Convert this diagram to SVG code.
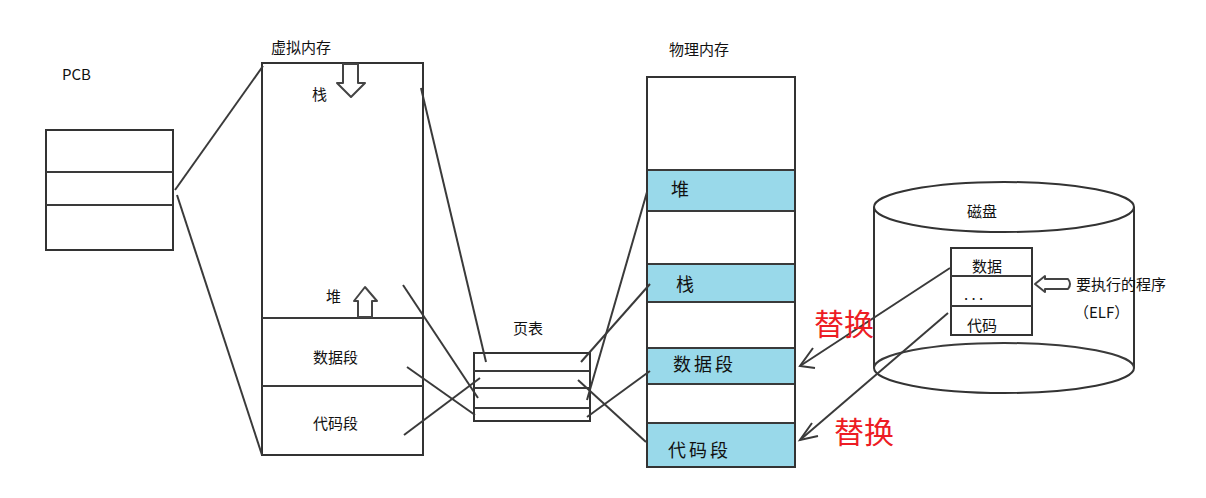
<svg xmlns="http://www.w3.org/2000/svg" width="1206" height="498" viewBox="0 0 1206 498">
<style>
.t{font-family:"Noto Sans CJK SC","Liberation Sans",sans-serif;fill:#111}
.s{font-size:15px}
.m{font-size:18px;letter-spacing:3px}
.box{fill:#fff;stroke:#333;stroke-width:2}
.ln{stroke:#3a3a3a;stroke-width:2;fill:none}
.band{fill:#99D9EA}
.red{font-family:"Noto Sans CJK SC","Liberation Sans",sans-serif;fill:#ED1C24;font-size:30px}
.arw{fill:#fff;stroke:#444;stroke-width:2;stroke-linejoin:round}
</style>
<rect width="1206" height="498" fill="#fff"/>

<g id="pcb">
<text class="t s" x="62" y="80" font-size="13">PCB</text>
<rect class="box" x="46" y="130" width="127" height="120"/>
<line class="ln" x1="46" y1="172" x2="173" y2="172"/>
<line class="ln" x1="46" y1="205" x2="173" y2="205"/>
</g>

<g id="virtual-memory">
<text class="t s" x="271" y="53">虚拟内存</text>
<rect class="box" x="262" y="63" width="161" height="392"/>
<line class="ln" x1="262" y1="318" x2="423" y2="318"/>
<line class="ln" x1="262" y1="386" x2="423" y2="386"/>
<path class="arw" d="M343 64 H358 V83 H365 L351 97 L337 83 H343 Z"/>
<text class="t s" x="312" y="100">栈</text>
<path class="arw" d="M358 317 V301 H354 L365 287 L377 301 H372 V317 Z"/>
<text class="t s" x="326" y="302">堆</text>
<text class="t s" x="313" y="363">数据段</text>
<text class="t s" x="313" y="429">代码段</text>
</g>

<g id="page-table">
<text class="t s" x="513" y="334">页表</text>
<rect class="box" x="474" y="353" width="116" height="68"/>
<line class="ln" x1="474" y1="371" x2="590" y2="371"/>
<line class="ln" x1="474" y1="388" x2="590" y2="388"/>
<line class="ln" x1="474" y1="408" x2="590" y2="408"/>
</g>

<g id="physical-memory">
<text class="t s" x="669" y="55">物理内存</text>
<rect class="box" x="647" y="77" width="148" height="390"/>
<rect class="band" x="648" y="171" width="146" height="40"/>
<rect class="band" x="648" y="265" width="146" height="37"/>
<rect class="band" x="648" y="349" width="146" height="34"/>
<rect class="band" x="648" y="424" width="146" height="42"/>
<line class="ln" x1="647" y1="170" x2="795" y2="170"/>
<line class="ln" x1="647" y1="211" x2="795" y2="211"/>
<line class="ln" x1="647" y1="264" x2="795" y2="264"/>
<line class="ln" x1="647" y1="302" x2="795" y2="302"/>
<line class="ln" x1="647" y1="348" x2="795" y2="348"/>
<line class="ln" x1="647" y1="384" x2="795" y2="384"/>
<line class="ln" x1="647" y1="423" x2="795" y2="423"/>
<rect x="647" y="77" width="148" height="390" fill="none" stroke="#333" stroke-width="2"/>
<text class="t m" x="671" y="196">堆</text>
<text class="t m" x="676" y="291">栈</text>
<text class="t m" x="673" y="371">数据段</text>
<text class="t m" x="668" y="457">代码段</text>
</g>

<g id="disk">
<path class="box" d="M874 207 V368 A130 25 0 0 0 1134 368 V207"/>
<ellipse class="box" cx="1004" cy="207" rx="130" ry="25"/>
<path class="ln" d="M874 368 A130 25 0 0 1 1134 368"/>
<text class="t s" x="967" y="217">磁盘</text>
<rect class="box" x="951" y="248" width="81" height="87"/>
<line class="ln" x1="951" y1="276" x2="1032" y2="276"/>
<line class="ln" x1="951" y1="306" x2="1032" y2="306"/>
<text class="t s" x="972" y="272">数据</text>
<text class="t s" x="964" y="300">. . .</text>
<text class="t s" x="967" y="331">代码</text>
</g>

<g id="elf-label">
<path class="arw" d="M1035 284 L1045 276 V279 H1068 Q1072 284 1068 289 H1045 V292 Z"/>
<text class="t s" x="1076" y="290">要执行的程序</text>
<text class="t s" x="1074" y="318">（ELF）</text>
</g>

<g id="connectors">
<line class="ln" x1="175" y1="190" x2="263" y2="66"/>
<line class="ln" x1="177" y1="195" x2="262" y2="455"/>
<line class="ln" x1="421" y1="88" x2="486" y2="362"/>
<line class="ln" x1="403" y1="285" x2="478" y2="398"/>
<line class="ln" x1="407" y1="367" x2="475" y2="415"/>
<line class="ln" x1="404" y1="435" x2="480" y2="378"/>
<line class="ln" x1="581" y1="362" x2="650" y2="284"/>
<line class="ln" x1="587" y1="400" x2="647" y2="192"/>
<line class="ln" x1="587" y1="417" x2="650" y2="371"/>
<line class="ln" x1="578" y1="380" x2="646" y2="442"/>
<line class="ln" x1="950" y1="268" x2="800" y2="366"/>
<polyline class="ln" points="813,348 800,366 815,368"/>
<line class="ln" x1="948" y1="313" x2="800" y2="440"/>
<polyline class="ln" points="812,423 800,440 818,436"/>
</g>

<text class="red" x="814" y="335">替换</text>
<text class="red" x="834" y="443">替换</text>
</svg>
